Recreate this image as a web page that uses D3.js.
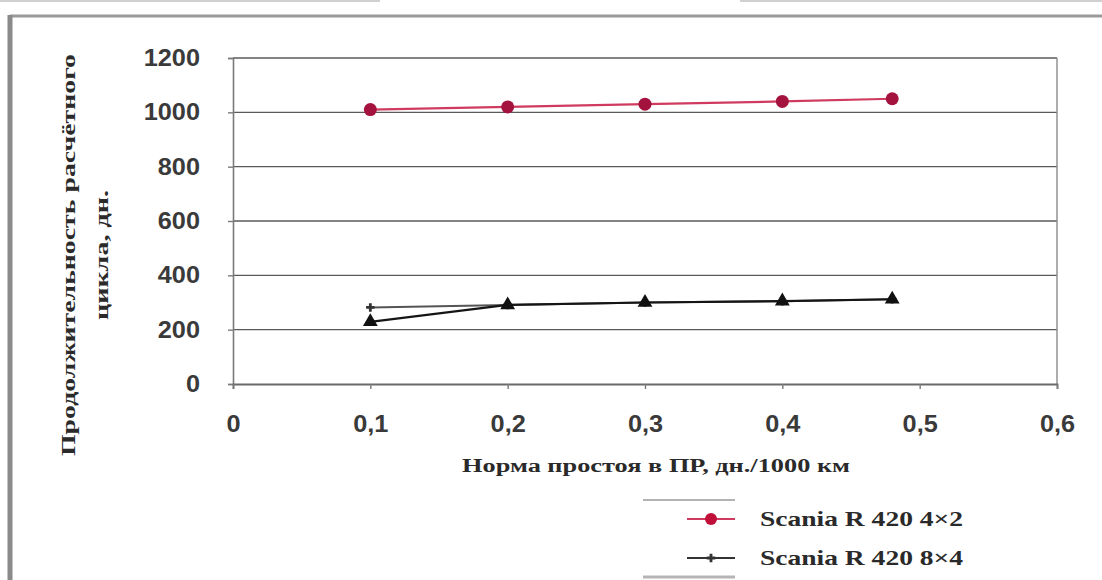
<!DOCTYPE html>
<html>
<head>
<meta charset="utf-8">
<script src="https://cdn.jsdelivr.net/npm/d3@7"></script>
<style>
  html, body { margin: 0; padding: 0; background: #fff; }
  svg { display: block; }
</style>
</head>
<body>
<svg id="chart" width="1102" height="580"></svg>
<script>
// Idle-rate values on the x axis (days per 1000 km)
const xValues = [0.1, 0.2, 0.3, 0.4, 0.48];
// Cycle duration, days
const seriesNames = ["Scania R 420 4×2", "Scania R 420 8×4", "Scania R 420 6×4"];
const series4x2 = [1010, 1020, 1030, 1040, 1050];
const series8x4 = [282, 291, 300, 305, 312];
const series6x4 = [229, 291, 300, 305, 312];
const yTicks = [0, 200, 400, 600, 800, 1000, 1200];
const xTicks = [0, 0.1, 0.2, 0.3, 0.4, 0.5, 0.6];
const xTitle = "Норма простоя в ПР, дн./1000 км";
const yTitle = ["Продолжительность расчётного", "цикла, дн."];

const svg = d3.select("#chart");

// widen a text element horizontally by a factor
function widen(sel, k) {
  sel.each(function () {
    const w = this.getComputedTextLength();
    d3.select(this).attr("textLength", w * k).attr("lengthAdjust", "spacingAndGlyphs");
  });
}

// page frame
svg.append("line").attr("x1", 10).attr("x2", 1102).attr("y1", 16).attr("y2", 16)
  .attr("stroke", "#9a9a9a").attr("stroke-width", 3);
svg.append("line").attr("x1", 10).attr("x2", 10).attr("y1", 15).attr("y2", 580)
  .attr("stroke", "#8a8a8a").attr("stroke-width", 5);
svg.append("line").attr("x1", 0).attr("x2", 380).attr("y1", 1).attr("y2", 1)
  .attr("stroke", "#d0d0d0").attr("stroke-width", 2);
svg.append("line").attr("x1", 740).attr("x2", 1102).attr("y1", 1).attr("y2", 1)
  .attr("stroke", "#d0d0d0").attr("stroke-width", 2);

const plotLeft = 233, plotRight = 1057, plotTop = 58, plotBottom = 384;
const x = d3.scaleLinear().domain([0, 0.6]).range([plotLeft, plotRight]);
const y = d3.scaleLinear().domain([0, 1200]).range([plotBottom, plotTop]);

// horizontal gridlines
svg.append("g").selectAll("line").data(yTicks.slice(1)).join("line")
  .attr("x1", plotLeft).attr("x2", plotRight)
  .attr("y1", d => y(d)).attr("y2", d => y(d))
  .attr("stroke", "#5a5a5a").attr("stroke-width", 1.4);

// plot border (right side)
svg.append("line").attr("x1", plotRight).attr("x2", plotRight).attr("y1", plotTop).attr("y2", plotBottom)
  .attr("stroke", "#8a8a8a").attr("stroke-width", 1.4);

const fmt = d => String(d).replace(".", ",");

// y axis
const yAxis = svg.append("g").attr("transform", `translate(${plotLeft},0)`)
  .call(d3.axisLeft(y).tickValues(yTicks).tickSize(5).tickPadding(28).tickFormat(d => d));
yAxis.select(".domain").attr("stroke", "#7a7a7a").attr("stroke-width", 1.6);
yAxis.selectAll(".tick line").attr("stroke", "#7a7a7a").attr("stroke-width", 1.4);
yAxis.selectAll(".tick text")
  .attr("font-family", "Liberation Sans, Arial, sans-serif")
  .attr("font-size", 23).attr("font-weight", "bold").attr("fill", "#3a3a3a");
widen(yAxis.selectAll(".tick text"), 1.1);

// x axis
const xAxis = svg.append("g").attr("transform", `translate(0,${plotBottom})`)
  .call(d3.axisBottom(x).tickValues(xTicks).tickSize(5).tickPadding(27).tickFormat(fmt));
xAxis.select(".domain").attr("stroke", "#6a6a6a").attr("stroke-width", 1.8);
xAxis.selectAll(".tick line").attr("stroke", "#7a7a7a").attr("stroke-width", 1.4);
xAxis.selectAll(".tick text")
  .attr("font-family", "Liberation Sans, Arial, sans-serif")
  .attr("font-size", 23).attr("font-weight", "bold").attr("fill", "#3a3a3a");
widen(xAxis.selectAll(".tick text"), 1.1);

// series lines
const line = d3.line().x((d, i) => x(xValues[i])).y(d => y(d));
svg.append("path").datum(series8x4).attr("d", line)
  .attr("fill", "none").attr("stroke", "#555").attr("stroke-width", 2);
svg.append("path").datum(series6x4).attr("d", line)
  .attr("fill", "none").attr("stroke", "#151515").attr("stroke-width", 2.2);
svg.append("path").datum(series4x2).attr("d", line)
  .attr("fill", "none").attr("stroke", "#cf3a5e").attr("stroke-width", 2.2);

// markers
const cross = d3.symbol().type(d3.symbolCross).size(40);
const tri = d3.symbol().type(d3.symbolTriangle).size(95);
svg.append("g").selectAll("path").data(series8x4).join("path")
  .attr("d", cross)
  .attr("transform", (d, i) => `translate(${x(xValues[i])},${y(d)})`)
  .attr("fill", "#333");
svg.append("g").selectAll("path").data(series6x4).join("path")
  .attr("d", tri)
  .attr("transform", (d, i) => `translate(${x(xValues[i])},${y(d)})`)
  .attr("fill", "#111");
svg.append("g").selectAll("circle").data(series4x2).join("circle")
  .attr("cx", (d, i) => x(xValues[i])).attr("cy", d => y(d)).attr("r", 6.5)
  .attr("fill", "#a4123e");

// axis titles
svg.append("text").attr("x", 656).attr("y", 472).attr("text-anchor", "middle")
  .attr("font-family", "Liberation Serif, Times New Roman, serif")
  .attr("font-size", 18).attr("font-weight", "bold").attr("fill", "#2a2a2a")
  .attr("textLength", 388).attr("lengthAdjust", "spacingAndGlyphs")
  .text(xTitle);

const yTitleLen = [402, 130];
yTitle.forEach((t, i) => {
  svg.append("text")
    .attr("transform", `translate(${75 + i * 33},255) rotate(-90)`)
    .attr("text-anchor", "middle")
    .attr("font-family", "Liberation Serif, Times New Roman, serif")
    .attr("font-size", 19).attr("font-weight", "bold").attr("fill", "#2a2a2a")
    .attr("textLength", yTitleLen[i]).attr("lengthAdjust", "spacingAndGlyphs")
    .text(t);
});

// legend
const legend = svg.append("g");
legend.append("line").attr("x1", 643).attr("x2", 735).attr("y1", 500).attr("y2", 500)
  .attr("stroke", "#9a9a9a").attr("stroke-width", 1.5);
legend.append("line").attr("x1", 643).attr("x2", 735).attr("y1", 577).attr("y2", 577)
  .attr("stroke", "#b5b5b5").attr("stroke-width", 3);
const legendRows = [
  { name: seriesNames[0], y: 519, color: "#cf3a5e", mark: "circle" },
  { name: seriesNames[1], y: 558, color: "#333", mark: "cross" }
];
legendRows.forEach(r => {
  legend.append("line").attr("x1", 687).attr("x2", 735).attr("y1", r.y).attr("y2", r.y)
    .attr("stroke", r.color).attr("stroke-width", 2);
  if (r.mark === "circle") {
    legend.append("circle").attr("cx", 711).attr("cy", r.y).attr("r", 6).attr("fill", "#c0103a");
  } else {
    legend.append("path").attr("d", cross).attr("transform", `translate(711,${r.y})`).attr("fill", "#333");
  }
  legend.append("text").attr("x", 760).attr("y", r.y + 7)
    .attr("font-family", "Liberation Serif, Times New Roman, serif")
    .attr("font-size", 21).attr("font-weight", "bold").attr("fill", "#2a2a2a")
    .attr("textLength", 203).attr("lengthAdjust", "spacingAndGlyphs")
    .text(r.name);
});
</script>
</body>
</html>
